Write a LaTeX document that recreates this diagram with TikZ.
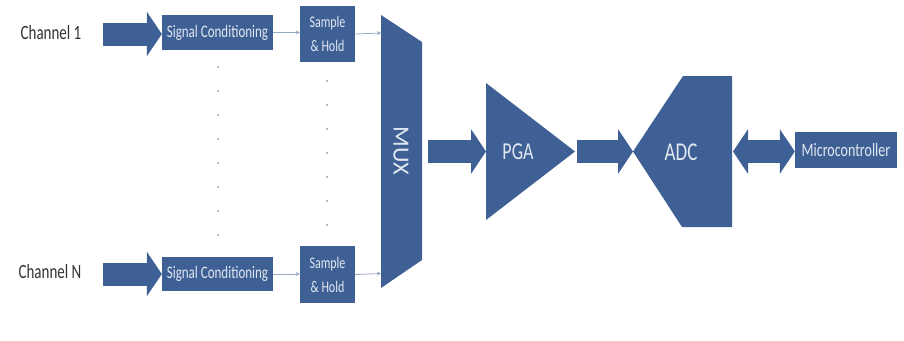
\documentclass[tikz,border=0pt]{standalone}
\usepackage{fontspec}
\setmainfont{Carlito}
\usepackage{graphicx}
\usepackage{tikz}
\usepackage{xcolor}
\usetikzlibrary{arrows.meta}

\definecolor{blockblue}{RGB}{62,96,148}
\definecolor{wireblue}{RGB}{150,168,196}
\definecolor{dotgray}{RGB}{150,150,150}
\definecolor{labelgray}{RGB}{50,50,50}
\definecolor{boxtext}{RGB}{225,232,242}

\newcommand{\tall}[1]{\scalebox{1}[1.35]{#1}}

\begin{document}
\begin{tikzpicture}[x=1pt, y=-1pt,
  block/.style={fill=blockblue, text=boxtext, inner sep=0pt},
  chlabel/.style={text=labelgray, font=\fontsize{15}{18}\selectfont},
  fatarrow/.style={draw=blockblue, line width=23pt, -{Triangle[length=15pt, width=44pt]}},
  wire/.style={draw=wireblue, line width=0.8pt, -{Stealth[length=4pt, width=4pt]}}]

\useasboundingbox (0,0) rectangle (904,340);

% channel labels
\node[chlabel] (ch1) at (51,33) {\tall{Channel 1}};
\node[chlabel] (chN) at (50,272) {\tall{Channel N}};

% signal conditioning and sample & hold
\node[block, minimum width=111pt, minimum height=35pt, font=\fontsize{13}{15}\selectfont] (sc1) at (217.5,32.5) {\tall{Signal Conditioning}};
\node[block, minimum width=111pt, minimum height=34pt, font=\fontsize{13}{15}\selectfont] (scN) at (217.5,274) {\tall{Signal Conditioning}};
\node[block, minimum width=55pt, minimum height=56pt, align=center, font=\fontsize{12}{24}\selectfont] (sh1) at (327.5,34) {\tall{Sample}\\\tall{\& Hold}};
\node[block, minimum width=55pt, minimum height=57pt, align=center, font=\fontsize{12}{24}\selectfont] (shN) at (327.5,274.5) {\tall{Sample}\\\tall{\& Hold}};

% dots between the channels
\foreach \y in {67,91,...,237}
  \fill[dotgray] (218,\y) circle (1pt);
\foreach \y in {81,105,...,230}
  \fill[dotgray] (327,\y) circle (1pt);

% mux
\fill[blockblue] (381,15) -- (422,42) -- (422,260) -- (381,288) -- cycle;
\node[text=boxtext, rotate=-90, font=\fontsize{22}{24}\selectfont] (mux) at (401,151) {\scalebox{1.1}[1.05]{MUX}};
\coordinate (muxin1) at (381,33);
\coordinate (muxinN) at (381,273.5);
\coordinate (muxout) at (428,151.5);

% pga
\fill[blockblue] (486,83) -- (575,151.5) -- (486,220) -- cycle;
\node[text=boxtext, font=\fontsize{18}{20}\selectfont] (pga) at (518,152) {\tall{PGA}};
\coordinate (pgain) at (486,151.5);
\coordinate (pgaout) at (577,151.5);

% adc
\fill[blockblue] (633,151.5) -- (683,76) -- (732,76) -- (732,227) -- (682,227) -- cycle;
\node[text=boxtext, font=\fontsize{19}{21}\selectfont] (adc) at (681,152) {\tall{ADC}};
\coordinate (adcin) at (633,151.5);
\coordinate (adcout) at (733,151.5);

% microcontroller
\node[block, minimum width=102pt, minimum height=36pt, font=\fontsize{14}{16}\selectfont] (mcu) at (846,150) {\tall{Microcontroller}};

% inputs
\coordinate (in1) at (103,34);
\coordinate (inN) at (103,274);
\draw[fatarrow] (in1) -- (sc1.west |- in1);
\draw[fatarrow] (inN) -- (scN.west |- inN);

% wires
\draw[wire] (sc1.east) -- (sh1.west |- sc1.east);
\draw[wire] (scN.east) -- (shN.west |- scN.east);
\draw[wire] (sh1.east) -- (muxin1);
\draw[wire] (shN.east) -- (muxinN);

% block arrows
\draw[fatarrow] (muxout) -- (pgain);
\draw[fatarrow] (pgaout) -- (adcin);
\draw[draw=blockblue, line width=23pt, {Triangle[length=15pt, width=44pt]}-{Triangle[length=15pt, width=44pt]}] (adcout) -- (mcu.west |- adcout);
\end{tikzpicture}
\end{document}
